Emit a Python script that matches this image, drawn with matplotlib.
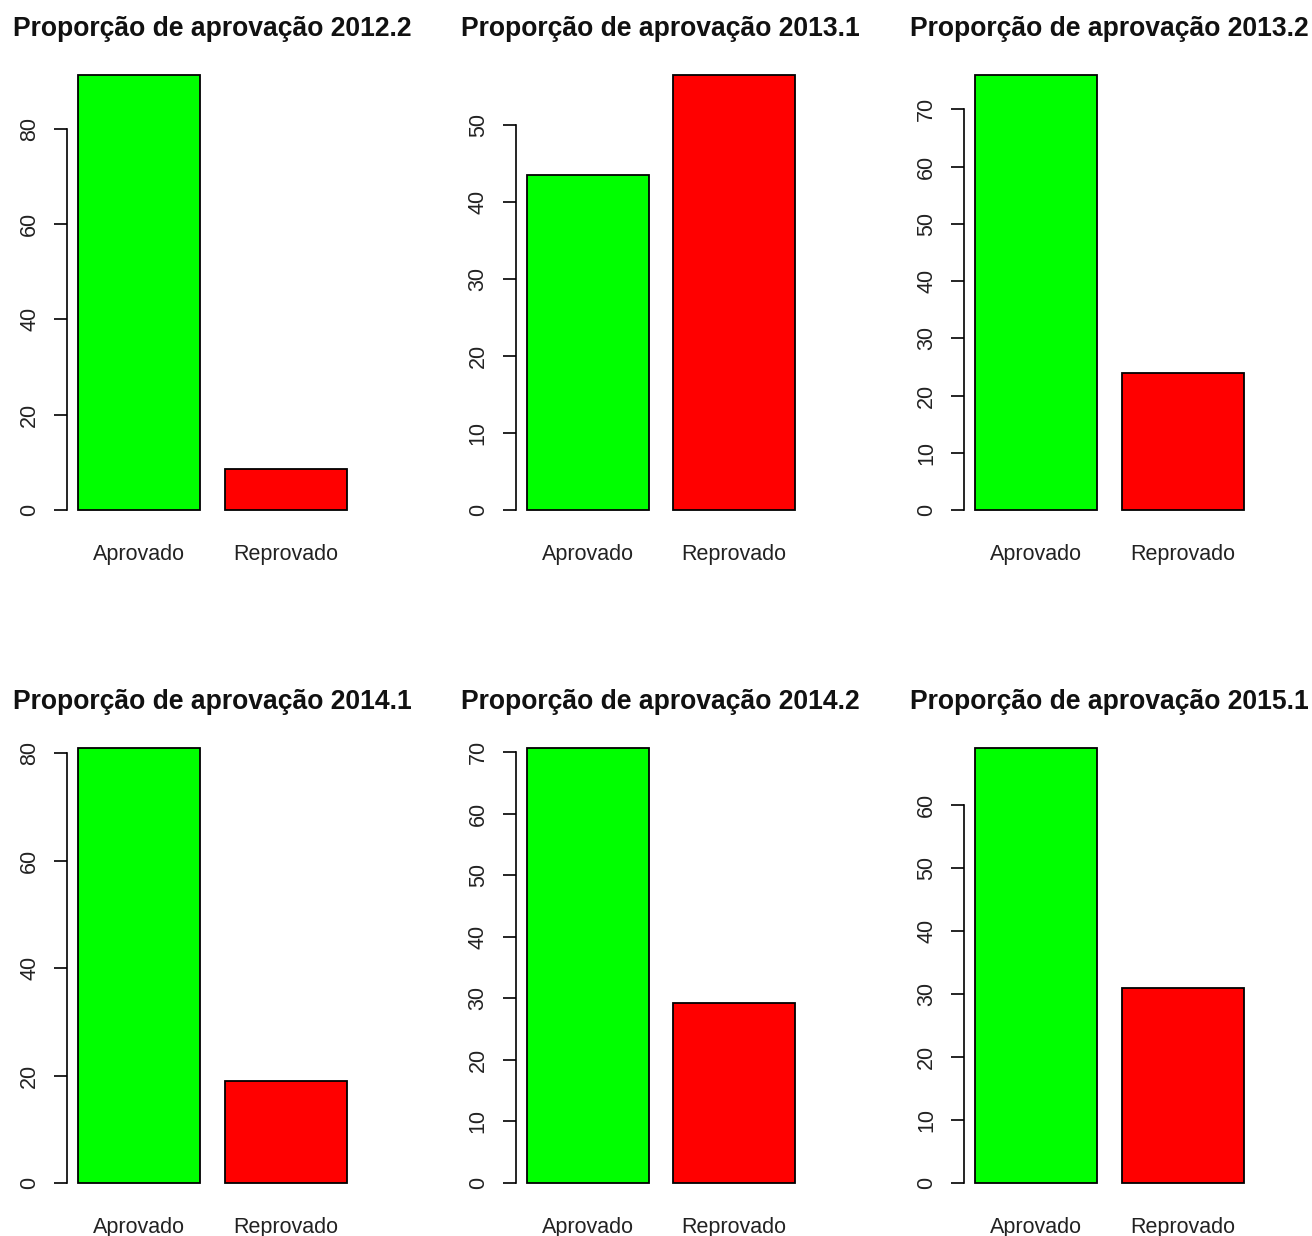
import matplotlib
matplotlib.use("Agg")
import matplotlib.pyplot as plt

plt.rcParams["font.family"] = ["Liberation Sans", "DejaVu Sans"]

semesters = ["2012.2", "2013.1", "2013.2", "2014.1", "2014.2", "2015.1"]
categories = ["Aprovado", "Reprovado"]
aprovado = [91.3, 43.5, 76.0, 81.0, 70.7, 69.1]
reprovado = [8.7, 56.5, 24.0, 19.0, 29.3, 30.9]
tick_steps = [20, 10, 10, 20, 10, 10]
colors = ["#00FF00", "#FF0000"]

W, H = 1312, 1236
fig = plt.figure(figsize=(W / 100, H / 100), dpi=100)

for i, sem in enumerate(semesters):
    r, c = divmod(i, 3)
    left = 67.3 + 448.5 * c
    top = 57.6 + 673 * r
    w, h = 290, 469.8
    ax = fig.add_axes([left / W, 1 - (top + h) / H, w / W, h / H])

    vals = [aprovado[i], reprovado[i]]
    ax.bar([0.7, 1.9], vals, width=1.0, color=colors, edgecolor="black", linewidth=1.3)
    top_val = max(vals)
    ax.set_xlim(0.112, 2.488)
    ax.set_ylim(-0.04 * top_val, 1.04 * top_val)

    step = tick_steps[i]
    ticks = list(range(0, int(top_val) + 1, step))
    ax.set_yticks(ticks)
    ax.tick_params(axis="y", length=9.5, width=1.2, pad=10, color="black",
                   labelsize=15.5, labelrotation=90, labelcolor="#222222")
    for lab in ax.get_yticklabels():
        lab.set_va("center")
    ax.set_xticks([0.7, 1.9])
    ax.set_xticklabels(categories)
    ax.tick_params(axis="x", length=0, pad=12, labelsize=15.5, labelcolor="#222222")

    for s in ["top", "right", "bottom"]:
        ax.spines[s].set_visible(False)
    ax.spines["left"].set_bounds(0, ticks[-1])
    ax.spines["left"].set_linewidth(1.2)
    ax.patch.set_alpha(0)

    fig.text((left + w / 2) / W, 1 - (36 + 673 * r) / H, "Proporção de aprovação " + sem,
             ha="center", va="baseline", fontsize=19.1, fontweight="bold", color="#111111")

fig.savefig("out.png", dpi=100)
